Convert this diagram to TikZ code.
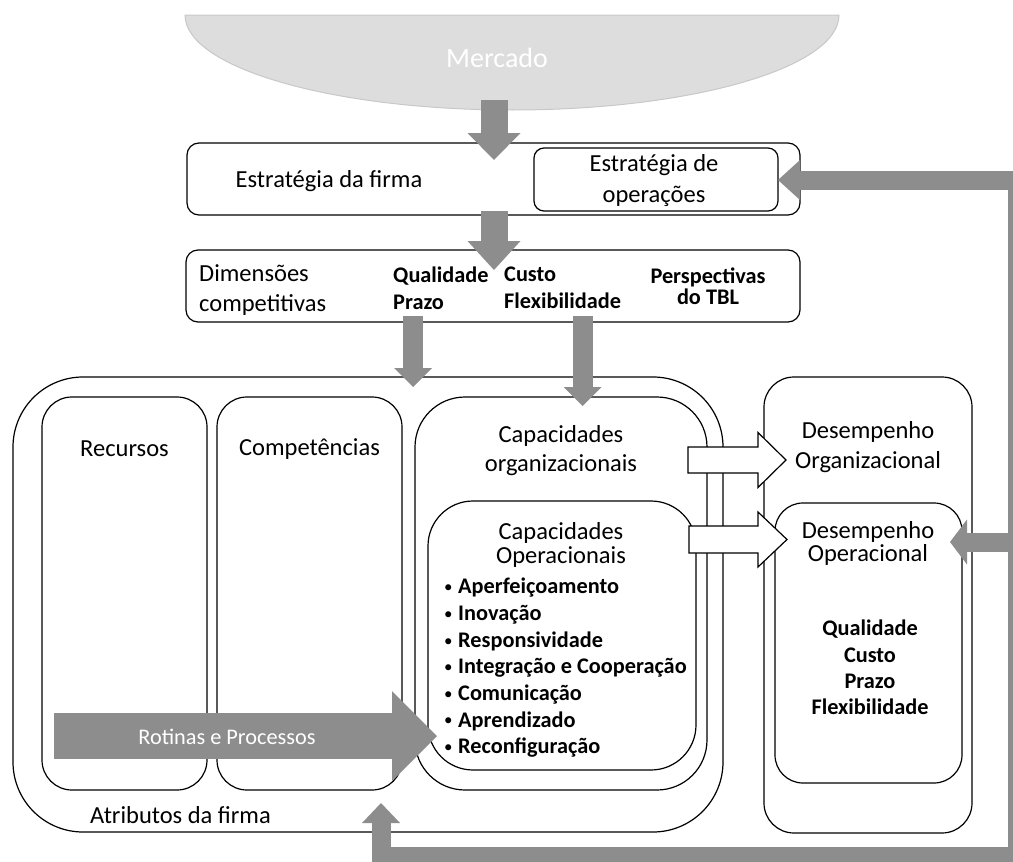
\documentclass[tikz,border=0pt]{standalone}
\usepackage{fontspec}
\setmainfont{Carlito}
\usetikzlibrary{arrows.meta,calc}
\definecolor{flowgray}{RGB}{141,141,141}
\definecolor{marketfill}{RGB}{221,221,221}
\definecolor{marketedge}{RGB}{200,200,200}

% outlined white block arrow pointing right: tail, tip, half shaft, half head, head length
\newcommand\whitearrow[5]{%
  \draw[line width=1.2pt, fill=white, line join=miter] let \p1=(#1), \p2=(#2) in
    (\x1,\y1+#3) -- (\x2-#5,\y1+#3) -- (\x2-#5,\y1+#4) -- (\x2,\y1)
    -- (\x2-#5,\y1-#4) -- (\x2-#5,\y1-#3) -- (\x1,\y1-#3) -- cycle;}
% small list bullet
\newcommand\listdot{\makebox[14pt][l]{\raisebox{1.2pt}{\fontsize{17}{17}\selectfont\mdseries•}}}

\begin{document}
\begin{tikzpicture}[x=1pt,y=-1pt,
  rbox/.style={draw=black, line width=1.2pt, rounded corners=#1, inner sep=0pt},
  reg/.style={inner sep=0pt, font=\fontsize{24.5}{30}\selectfont, align=center},
  bld/.style={inner sep=0pt, font=\fontsize{22.3}{27}\selectfont\bfseries, align=center},
  flow/.style={draw=flowgray, line width=#1, line join=miter},
  head/.style n args={2}{-{Triangle[length=#1, width=#2, line width=0pt]}},
]
\useasboundingbox (0,0) rectangle (1013,862);
\clip (0,0) rectangle (1013,862);

% market
\filldraw[fill=marketfill, draw=marketedge, line width=1pt]
  (185,15) arc[start angle=180, end angle=0, x radius=327, y radius=95] -- cycle;
\node[inner sep=0pt, font=\fontsize{28}{34}\selectfont, text=white] (merc) at (497,58) {Mercado};

% strategy row
\node[rbox=12pt, minimum width=613pt, minimum height=72pt] (est) at (493.5,179) {};
\node[rbox=10pt, minimum width=244pt, minimum height=63pt] (estop) at (656,179.5) {};
\node[reg] (estlbl) at (329,181) {Estratégia da firma};
\node[reg, font=\fontsize{24.5}{31}\selectfont] (estoplbl) at (654,181) {Estratégia de\\operações};

% competitive dimensions
\node[rbox=12pt, minimum width=614pt, minimum height=72pt] (dim) at (493,286) {};
\node[reg, anchor=west, align=left] (dimlbl) at (199,290) {Dimensões\\competitivas};
\node[bld, anchor=west, align=left] (qp) at (393,288) {Qualidade\\Prazo};
\node[bld, anchor=west, align=left] (cf) at (504,288) {Custo\\Flexibilidade};
\node[bld, font=\fontsize{22.3}{21}\selectfont\bfseries] (tbl) at (708,286) {Perspectivas\\do TBL};

% firm attributes
\node[rbox=70pt, minimum width=710pt, minimum height=455pt] (atr) at (368,604.5) {};
\node[rbox=30pt, minimum width=165pt, minimum height=393pt] (rec) at (124.5,593.5) {};
\node[rbox=30pt, minimum width=185pt, minimum height=393pt] (comp) at (309.5,593.5) {};
\node[rbox=50pt, minimum width=292pt, minimum height=393pt] (org) at (561,593.5) {};
\node[rbox=45pt, minimum width=268pt, minimum height=269pt] (ops) at (562,635.5) {};
\node[reg] (reclbl) at (124.5,449) {Recursos};
\node[reg] (complbl) at (309.5,449) {Competências};
\node[reg, font=\fontsize{24.5}{29}\selectfont] (orglbl) at (561,451) {Capacidades\\organizacionais};
\node[reg, font=\fontsize{24.5}{24}\selectfont] (opslbl) at (561,545) {Capacidades\\Operacionais};
\node[reg, anchor=west] (atrlbl) at (90,815) {Atributos da firma};
\foreach \t [count=\i from 0] in {Aperfeiçoamento, Inovação, Responsividade,
    Integração e Cooperação, Comunicação, Aprendizado, Reconfiguração}
  \node[bld, anchor=west] (cap\i) at (444,588+26.6*\i) {\listdot\t};

% performance
\node[rbox=30pt, minimum width=208pt, minimum height=456pt] (des) at (868,605) {};
\node[rbox=28pt, minimum width=187pt, minimum height=280pt] (desop) at (868.5,643) {};
\node[reg] (deslbl) at (868,447) {Desempenho\\Organizacional};
\node[reg, font=\fontsize{24.5}{23.5}\selectfont] (desoplbl) at (868,543.5) {Desempenho\\Operacional};
\node[bld, font=\fontsize{22.3}{26.4}\selectfont\bfseries] (qcpf) at (870,667.5)
  {Qualidade\\Custo\\Prazo\\Flexibilidade};

% arrow end points
\coordinate (a1s) at (494,100);  \coordinate (a1e) at (494,160);
\coordinate (a2s) at (494,211);  \coordinate (a2e) at (494,270);
\coordinate (a3s) at (413,316);  \coordinate (a3e) at (413,387);
\coordinate (a4s) at (582.5,316); \coordinate (a4e) at (582.5,406);
\coordinate (rts) at (54,736);   \coordinate (rte) at (437,736);
\coordinate (fbTop) at (778,180);
\coordinate (fbNE) at (1017.5,180);
\coordinate (fbSE) at (1017.5,856.5);
\coordinate (fbSW) at (381,856.5);
\coordinate (fbBot) at (381,803);
\coordinate (fbMid) at (1017.5,542);
\coordinate (fbMidTip) at (950,542);

% gray flow arrows
\draw[flow=27pt, head={27pt}{53pt}] (a1s) -- (a1e);
\draw[flow=27pt, head={29pt}{53pt}] (a2s) -- (a2e);
\draw[flow=20pt, head={19pt}{38pt}] (a3s) -- (a3e);
\draw[flow=20pt, head={19pt}{38pt}] (a4s) -- (a4e);
\draw[flow=46pt, head={45pt}{90pt}] (rts) -- (rte);
\node[inner sep=0pt, font=\fontsize{22.3}{27}\selectfont, text=white] (rotlbl) at (227,737) {Rotinas e Processos};

% feedback loop
\draw[flow=19pt, {Triangle[length=22pt, width=40pt, line width=0pt]}-{Triangle[length=20pt, width=38pt, line width=0pt]}]
  (fbTop) -- (fbNE) -- (fbSE) -- (fbSW) -- (fbBot);
\draw[flow=19pt, head={17pt}{45pt}] (fbMid) -- (fbMidTip);

% capabilities to performance
\coordinate (wa1s) at (688,460);  \coordinate (wa1e) at (786,460);
\coordinate (wa2s) at (689,539.5); \coordinate (wa2e) at (787,539.5);
\whitearrow{wa1s}{wa1e}{13pt}{27.5pt}{28pt}
\whitearrow{wa2s}{wa2e}{13.5pt}{27.5pt}{29pt}
\end{tikzpicture}
\end{document}
